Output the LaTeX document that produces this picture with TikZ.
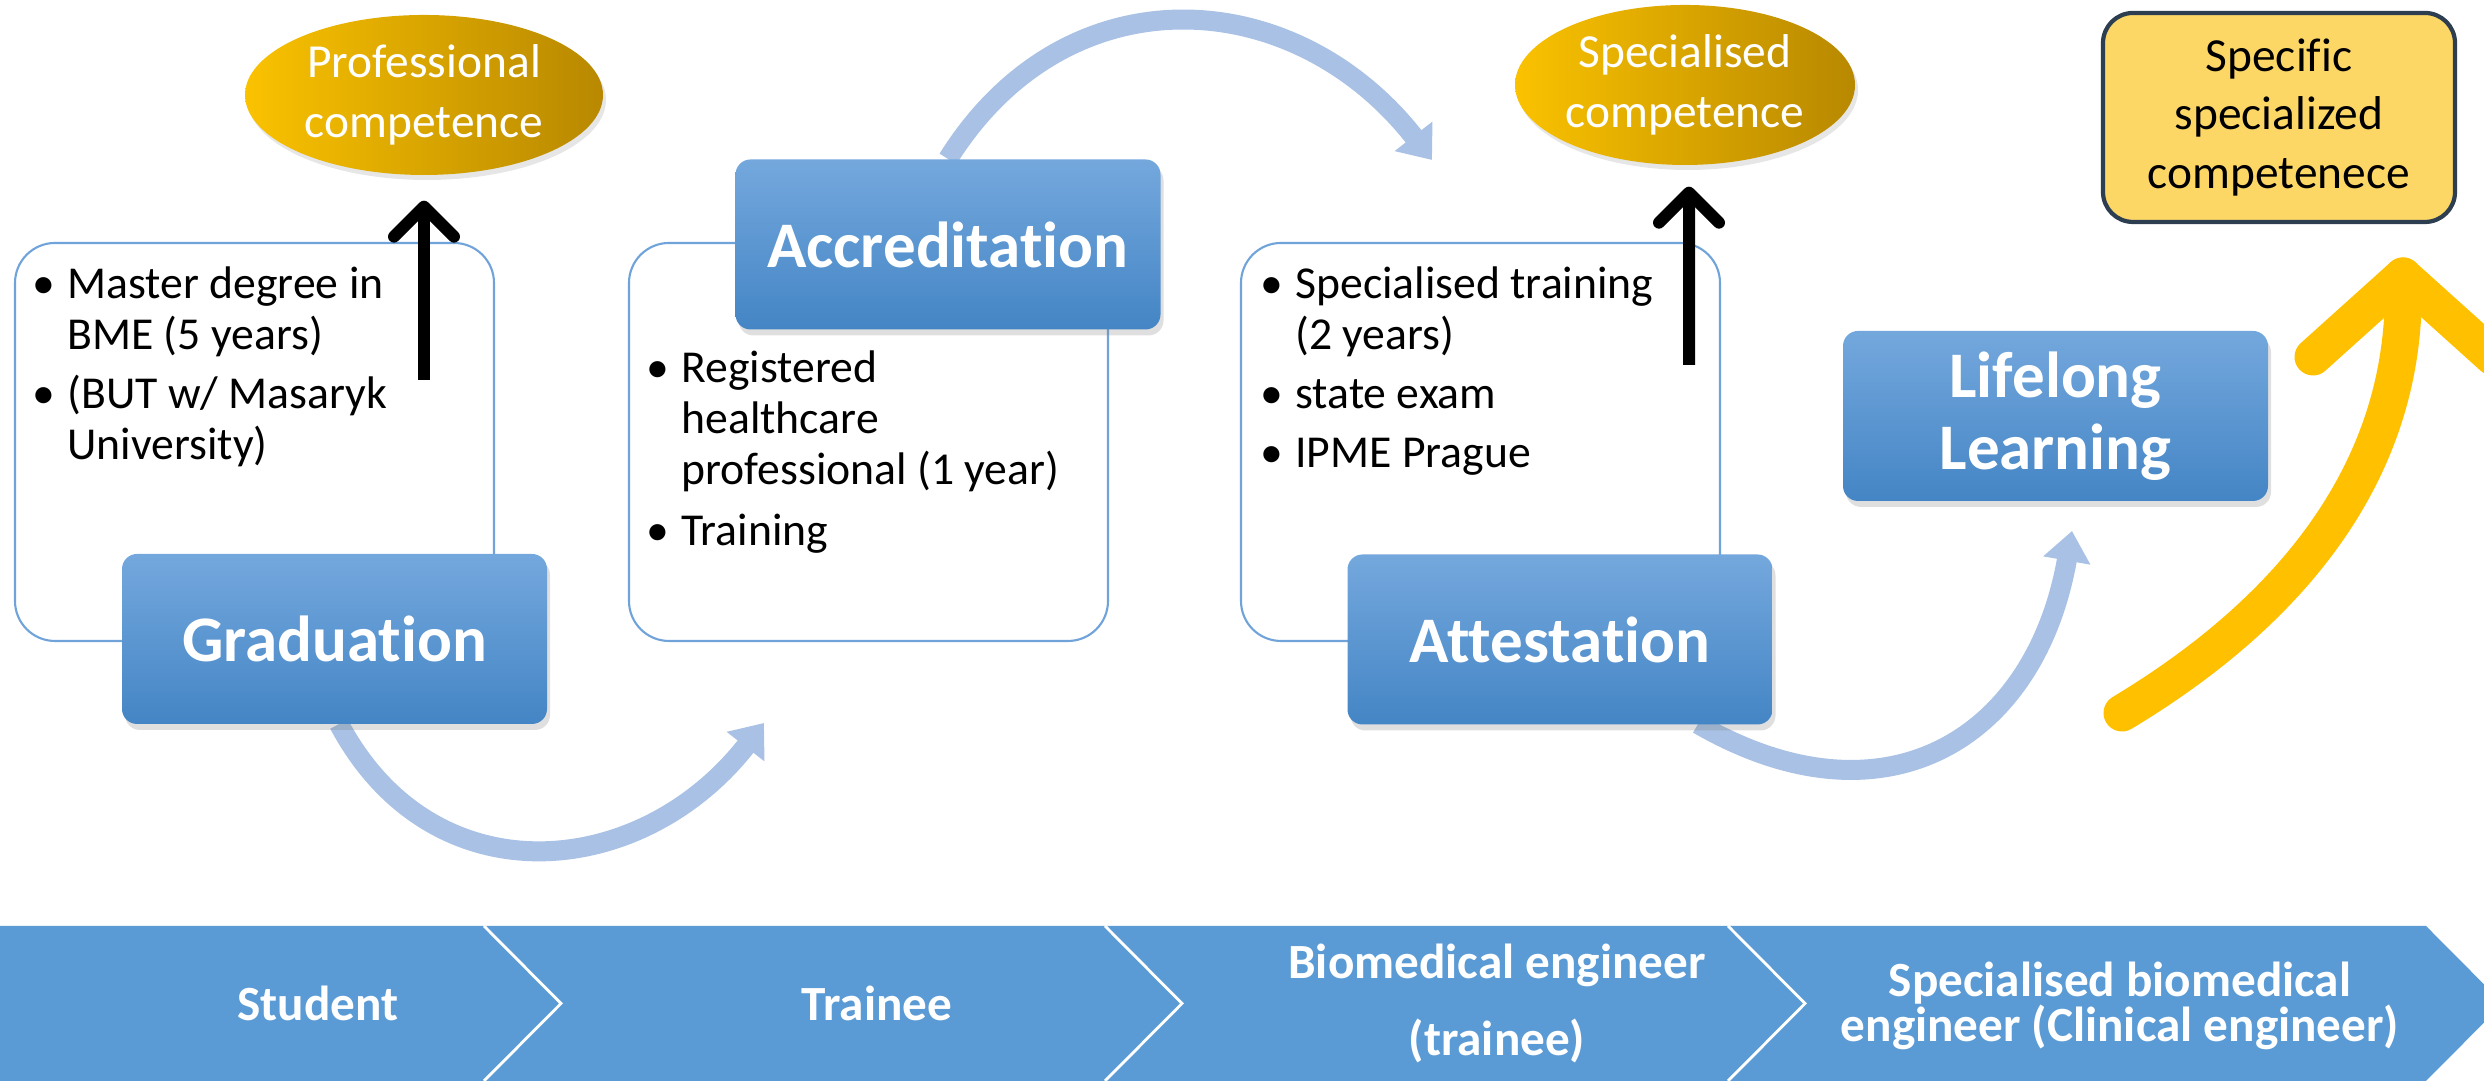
\documentclass[tikz,border=0pt]{standalone}
\usepackage{fontspec}
\setmainfont{Carlito}[Ligatures=CommonOff]
\usetikzlibrary{arrows.meta,shapes.geometric,shadows}

\definecolor{bandblue}{HTML}{5B9BD5}
\definecolor{boxtop}{HTML}{74A8DD}
\definecolor{boxbot}{HTML}{4485C5}
\definecolor{frameblue}{HTML}{6FA3DA}
\definecolor{flowblue}{HTML}{A8C1E4}
\definecolor{goldlight}{HTML}{FAC200}
\definecolor{golddark}{HTML}{B88800}
\definecolor{notefill}{HTML}{FDD766}
\definecolor{noteline}{HTML}{2D3E50}
\definecolor{risegold}{HTML}{FFC000}

\tikzset{
	stagebox/.style={rounded corners=0.15cm, minimum width=4.25cm, minimum height=1.7cm,
		top color=boxtop, bottom color=boxbot, text=white, align=center,
		font=\fontsize{18.5}{20.5}\selectfont\bfseries,
		drop shadow={shadow xshift=0.03cm, shadow yshift=-0.06cm, opacity=0.25}},
	infobox/.style={draw=frameblue, line width=0.6pt, rounded corners=0.4cm,
		minimum width=4.79cm, minimum height=3.98cm, inner sep=0pt},
	compell/.style={ellipse, inner sep=0pt, left color=goldlight, right color=golddark,
		text=white, align=center, font=\fontsize{13.5}{17}\selectfont,
		drop shadow={shadow xshift=0.03cm, shadow yshift=-0.05cm, opacity=0.2}},
	notebox/.style={draw=noteline, line width=1.2pt, fill=notefill, rounded corners=0.3cm,
		minimum width=3.52cm, minimum height=2.09cm, align=center,
		font=\fontsize{13.5}{16.7}\selectfont},
	bullets/.style={anchor=base west, inner sep=0pt, font=\fontsize{13}{14.5}\selectfont},
	bandtext/.style={text=white, align=center, font=\fontsize{14}{16}\selectfont\bfseries},
	flow/.style={draw=flowblue, line width=0.2cm, -{Triangle[length=0.3cm,width=0.46cm]}},
	upline/.style={line width=0.12cm, -{Straight Barb[length=0.3cm,width=0.6cm,round]}},
	rise/.style={draw=risegold, line width=0.37cm, line cap=round, line join=round},
}

\begin{document}
\begin{tikzpicture}
			%%%%% START %%%%%
			\useasboundingbox (0,0) rectangle (24.84,10.81);
			\clip (0,0) rectangle (24.84,10.81);
			
			% career band along the bottom
			\fill[bandblue] (0,0) -- (0,1.55) -- (24.26,1.55) -- (25.03,0.775) -- (24.26,0) -- cycle;
			\foreach \x in {4.84,11.05,17.28}
				\draw[white, line width=0.8pt] (\x,1.55) -- (\x+0.77,0.775) -- (\x,0);
			
			\node[bandtext] (student) at (3.18,0.78) {Student};
			\node[bandtext] (trainee) at (8.77,0.78) {Trainee};
			\node[bandtext, font=\fontsize{14}{21.9}\selectfont\bfseries] (bmetrainee) at (14.97,0.775) {Biomedical engineer\\(trainee)};
			\node[bandtext, font=\fontsize{14}{12.8}\selectfont\bfseries] (clinical) at (21.2,0.75) {Specialised biomedical\\engineer (Clinical engineer)};
			
			% frames with the requirements
			\node[infobox] (study) at (2.545,6.39) {};
			\node[infobox] (register) at (8.685,6.39) {};
			\node[infobox] (special) at (14.805,6.39) {};
			
			\node[bullets] (studytext) at (0.32,7.82) {\begin{tabular}[t]{@{}l@{\hspace{0.12cm}}l@{}}
				\textbullet & Master degree in\\
				& BME (5 years)\\[0.08cm]
				\textbullet & (BUT w/ Masaryk\\
				& University)
			\end{tabular}};
			\node[bullets] (registertext) at (6.46,6.98) {\begin{tabular}[t]{@{}l@{\hspace{0.12cm}}l@{}}
				\textbullet & Registered\\
				& healthcare\\
				& professional (1 year)\\[0.1cm]
				\textbullet & Training
			\end{tabular}};
			\node[bullets] (specialtext) at (12.60,7.82) {\begin{tabular}[t]{@{}l@{\hspace{0.12cm}}l@{}}
				\textbullet & Specialised training\\
				& (2 years)\\[0.08cm]
				\textbullet & state exam\\[0.08cm]
				\textbullet & IPME Prague
			\end{tabular}};
			
			% arrow ends
			\coordinate (a1end) at (7.64,3.58);
			\coordinate (a2end) at (14.32,9.21);
			\coordinate (a3start) at (16.98,3.57);
			\coordinate (a3end) at (20.72,5.50);
			
			\draw[flow] (3.39,3.57) to[out=-62, in=-128, looseness=1.2] (a1end);
			\draw[flow] (9.48,9.22) to[out=58, in=128, looseness=1.18] (a2end);
			\draw[flow] (a3start) to[out=-30, in=-100, looseness=1.3] (a3end);
			
			% stages
			\node[stagebox] (grad) at (3.345,4.42) {Graduation};
			\node[stagebox] (accr) at (9.48,8.365) {Accreditation};
			\node[stagebox] (attest) at (15.60,4.415) {Attestation};
			\node[stagebox] (lifelong) at (20.555,6.65) {Lifelong\\Learning};
			
			% competences
			\node[compell, minimum width=3.58cm, minimum height=1.6cm] (profcomp) at (4.24,9.86) {Professional\\competence};
			\node[compell, minimum width=3.4cm, minimum height=1.6cm] (speccomp) at (16.85,9.96) {Specialised\\competence};
			\node[notebox] (specific) at (22.79,9.635) {Specific\\specialized\\competenece};
			
			\coordinate (gradup) at (4.24,7.01);
			\coordinate (attestup) at (16.89,7.16);
			\draw[upline] (gradup) -- ([yshift=-0.25cm]profcomp.south);
			\draw[upline] (attestup) -- ([xshift=0.04cm,yshift=-0.21cm]speccomp.south);
			
			% lifelong rise
			\coordinate (risebase) at (21.22,3.68);
			\coordinate (risetop) at (24.03,8.05);
			\coordinate (riseleft) at (23.13,7.24);
			\coordinate (riseright) at (24.93,7.24);
			\draw[rise] (risebase) .. controls (23.0,4.75) and (24.1,6.2) .. (risetop);
			\draw[rise] (riseleft) -- (risetop) -- (riseright);
			
			%%%%% END %%%%%
\end{tikzpicture}
\end{document}
